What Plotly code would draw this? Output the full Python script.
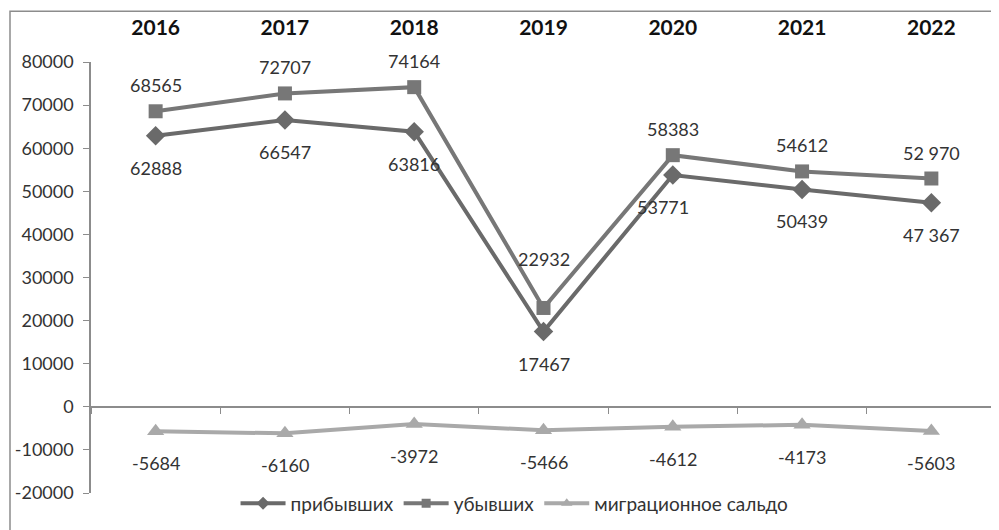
import plotly.graph_objects as go

years = ["2016", "2017", "2018", "2019", "2020", "2021", "2022"]
arrived = [62888, 66547, 63816, 17467, 53771, 50439, 47367]
arrived_labels = ["62888", "66547", "63816", "17467", "53771", "50439", "47 367"]
departed = [68565, 72707, 74164, 22932, 58383, 54612, 52970]
departed_labels = ["68565", "72707", "74164", "22932", "58383", "54612", "52 970"]
balance = [-5684, -6160, -3972, -5466, -4612, -4173, -5603]
balance_labels = ["-5684", "-6160", "-3972", "-5466", "-4612", "-4173", "-5603"]
series_names = ["прибывших", "убывших", "миграционное сальдо"]
y_ticks = [-20000, -10000, 0, 10000, 20000, 30000, 40000, 50000, 60000, 70000, 80000]
y_tick_labels = [str(v) for v in y_ticks]

FONT = "Lato, Carlito, 'Liberation Sans', sans-serif"
LABEL = dict(family=FONT, size=18, color="#333333")

styles = [
    dict(color="#6a6a6a", symbol="diamond", size=15, legsize=10),
    dict(color="#777777", symbol="square", size=14, legsize=9),
    dict(color="#a9a9a9", symbol="triangle-up", size=15, legsize=10),
]
values = [arrived, departed, balance]

fig = go.Figure()
for name, vals, st in zip(series_names, values, styles):
    fig.add_trace(go.Scatter(
        x=years, y=vals, name=name, mode="lines+markers", showlegend=False,
        line=dict(color=st["color"], width=4),
        marker=dict(symbol=st["symbol"], size=st["size"], color=st["color"]),
    ))
# legend entries with smaller symbols, as in the original
for name, st in zip(series_names, styles):
    fig.add_trace(go.Scatter(
        x=[None], y=[None], name=name, mode="lines+markers",
        line=dict(color=st["color"], width=4),
        marker=dict(symbol=st["symbol"], size=st["legsize"], color=st["color"]),
    ))
# invisible trace to activate the zero-line category axis
fig.add_trace(go.Scatter(x=years, y=[None] * len(years), xaxis="x2",
                         showlegend=False, hoverinfo="skip"))

annotations = []
for i, yr in enumerate(years):
    annotations.append(dict(xref="x", yref="y", x=i, y=departed[i],
                            text=departed_labels[i], showarrow=False,
                            yshift=49 if yr == "2019" else 26, font=LABEL))
    annotations.append(dict(xref="x", yref="y", x=i, y=arrived[i],
                            text=arrived_labels[i], showarrow=False, yshift=-32,
                            xshift=-10 if yr == "2020" else 0, font=LABEL))
    annotations.append(dict(xref="x", yref="y", x=i, y=balance[i],
                            text=balance_labels[i], showarrow=False, yshift=-32,
                            font=LABEL))

fig.update_layout(
    width=999, height=530,
    margin=dict(l=83, r=11, t=54, b=45, autoexpand=False),
    paper_bgcolor="white", plot_bgcolor="white",
    font=dict(family=FONT, size=16, color="#333333"),
    xaxis=dict(type="category", side="top", range=[-0.5, 6.5], automargin=False,
               showline=False, ticks="", showgrid=False, zeroline=False,
               tickfont=dict(family=FONT, size=21, color="#111111", weight="bold"),
               ticklabelstandoff=22),
    xaxis2=dict(type="category", overlaying="x", anchor="free", position=0.2,
                range=[-0.5, 6.5], side="bottom", showline=True, linecolor="#8c8c8c",
                linewidth=1.5, ticks="outside", ticklen=6, tickcolor="#8c8c8c",
                tickson="boundaries", showticklabels=False, showgrid=False,
                automargin=False),
    yaxis=dict(range=[-20000, 80000], tickvals=y_ticks, ticktext=y_tick_labels,
               showgrid=False, automargin=False,
               zeroline=False, showline=True, linecolor="#8c8c8c", linewidth=1.5,
               ticks="outside", ticklen=6, tickcolor="#8c8c8c",
               tickfont=dict(family=FONT, size=18, color="#333333"),
               ticklabelstandoff=6),
    legend=dict(orientation="h", x=0.468, xanchor="center", y=-0.024, yanchor="middle",
                bgcolor="rgba(0,0,0,0)", font=dict(family=FONT, size=19, color="#333333"),
                itemwidth=45, tracegroupgap=0),
    showlegend=True,
    annotations=annotations,
    shapes=[dict(type="rect", xref="paper", yref="paper",
                 x0=-0.0895, x1=1.0, y0=-0.2, y1=1.118,
                 line=dict(color="#8c8c8c", width=1.5), fillcolor="rgba(0,0,0,0)")],
)

fig.write_html("out.html")
